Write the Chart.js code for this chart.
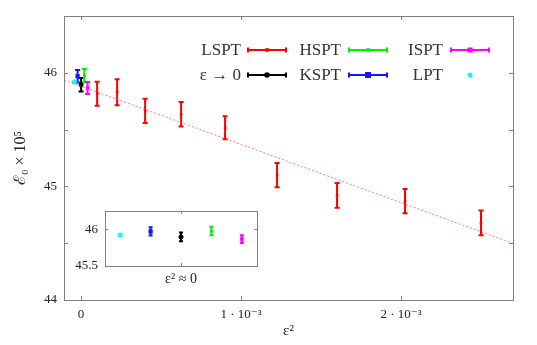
<!DOCTYPE html>
<html>
<head>
<meta charset="utf-8">
<script src="https://cdn.jsdelivr.net/npm/chart.js@4.4.0/dist/chart.umd.min.js"></script>
<style>
  html, body { margin: 0; padding: 0; background: #fff; }
  #wrap { position: relative; width: 537px; height: 345px; }
  #main { position: absolute; left: 0; top: 0; }
  #inset { position: absolute; left: 60px; top: 196px; }
</style>
</head>
<body>
<div id="wrap">
  <canvas id="main" width="537" height="345"></canvas>
  <canvas id="inset" width="205" height="96"></canvas>
</div>
<script>
/* ======================
   DATA
====================== */
// LSPT runs, x = eps^2
const lsptX = [0.0001, 0.000225, 0.0004, 0.000625, 0.0009, 0.001225, 0.0016, 0.002025, 0.0025];
const lsptY = [45.816, 45.829, 45.665, 45.636, 45.516, 45.099, 44.921, 44.871, 44.679];
const lsptErr = [0.105, 0.115, 0.106, 0.108, 0.102, 0.107, 0.108, 0.107, 0.108];

// linear fit through LSPT (dashed line)
const fitIntercept = 45.882;
const fitSlope = -512.6;

// estimates near eps^2 = 0 : LPT, KSPT, eps->0, HSPT, ISPT
const zeroNames = ["LPT", "KSPT", "ε → 0", "HSPT", "ISPT"];
const zeroX = [-0.000042, -0.000022, 0, 0.00002, 0.00004];   // small offsets in the main plot
const insetX = [-2, -1, 0, 1, 2];                             // slots in the inset
const zeroY = [45.92, 45.97, 45.895, 45.975, 45.866];
const zeroErr = [0, 0.055, 0.06, 0.058, 0.052];

const xTicks = [0, 0.001, 0.002];

/* ======================
   STYLE
====================== */
const FONT = "'Liberation Serif', 'DejaVu Serif', serif";
const AXIS = "#808080";
const TXT = "#222";
Chart.defaults.font.family = FONT;
Chart.defaults.color = TXT;

const zeroStyle = [
  { color: "#00ffff", point: "star", r: 2.5 },
  { color: "#1515ff", point: "rect", r: 3 },
  { color: "#000000", point: "circle", r: 2.5 },
  { color: "#00ee00", point: "rect", r: 2 },
  { color: "#ff00ff", point: "rect", r: 2.5 }
];

/* ======================
   PLUGINS
====================== */
// vertical error bars from dataset.errs, placed with the y scale
const errorBars = {
  id: "errorBars",
  beforeDatasetsDraw(chart) {
    const ctx = chart.ctx;
    const ys = chart.scales.y;
    chart.data.datasets.forEach((ds, di) => {
      if (!ds.errs) return;
      const meta = chart.getDatasetMeta(di);
      ctx.save();
      ctx.strokeStyle = ds.barColor;
      ctx.lineWidth = ds.barWidth || 2;
      meta.data.forEach((pt, i) => {
        const e = ds.errs[i];
        if (!e) return;
        const v = ds.data[i].y;
        const t = ys.getPixelForValue(v + e);
        const b = ys.getPixelForValue(v - e);
        const c = ds.capHalf || 2.5;
        ctx.beginPath();
        ctx.moveTo(pt.x, t); ctx.lineTo(pt.x, b);
        ctx.moveTo(pt.x - c, t); ctx.lineTo(pt.x + c, t);
        ctx.moveTo(pt.x - c, b); ctx.lineTo(pt.x + c, b);
        ctx.stroke();
      });
      ctx.restore();
    });
  }
};

// box around the plot with inward ticks on all sides
const frame = {
  id: "frame",
  beforeDraw(chart, args, opts) {
    if (!opts.fill) return;
    const a = chart.chartArea;
    chart.ctx.save();
    chart.ctx.fillStyle = "#fff";
    chart.ctx.fillRect(a.left, a.top, a.right - a.left, a.bottom - a.top);
    chart.ctx.restore();
  },
  afterDraw(chart, args, opts) {
    const ctx = chart.ctx;
    const a = chart.chartArea;
    const L = opts.tick || 4;
    ctx.save();
    ctx.strokeStyle = AXIS;
    ctx.lineWidth = 1;
    ctx.strokeRect(Math.round(a.left) + 0.5, Math.round(a.top) + 0.5,
      Math.round(a.right - a.left), Math.round(a.bottom - a.top));
    ctx.beginPath();
    chart.scales.x.ticks.forEach(t => {
      const px = Math.round(chart.scales.x.getPixelForValue(t.value)) + 0.5;
      ctx.moveTo(px, a.bottom); ctx.lineTo(px, a.bottom - L);
      ctx.moveTo(px, a.top); ctx.lineTo(px, a.top + L);
    });
    chart.scales.y.ticks.forEach(t => {
      const py = Math.round(chart.scales.y.getPixelForValue(t.value)) + 0.5;
      ctx.moveTo(a.left, py); ctx.lineTo(a.left + L, py);
      ctx.moveTo(a.right, py); ctx.lineTo(a.right - L, py);
    });
    ctx.stroke();
    ctx.restore();
  }
};

// legend with horizontal error-bar glyphs
const legendItems = [
  { text: "LSPT", color: "#ff0000", point: "rect", r: 1.8, col: 0, row: 0 },
  { text: "HSPT", color: "#00ee00", point: "rect", r: 1.8, col: 1, row: 0 },
  { text: "ISPT", color: "#ff00ff", point: "rect", r: 2.5, col: 2, row: 0 },
  { text: "ε → 0", color: "#000000", point: "circle", r: 2.8, col: 0, row: 1 },
  { text: "KSPT", color: "#1515ff", point: "rect", r: 3, col: 1, row: 1 },
  { text: "LPT", color: "#00ffff", point: "star", r: 2.5, col: 2, row: 1, noBar: true }
];
const legendCols = [{ textRight: 241, x0: 248, x1: 286 },
                    { textRight: 341, x0: 349, x1: 387 },
                    { textRight: 443, x0: 451, x1: 489 }];
const legendRows = [50, 75];

const errLegend = {
  id: "errLegend",
  afterDraw(chart) {
    const ctx = chart.ctx;
    ctx.save();
    ctx.font = "17px " + FONT;
    ctx.textAlign = "right";
    ctx.textBaseline = "middle";
    legendItems.forEach(it => {
      const c = legendCols[it.col];
      const y = legendRows[it.row];
      ctx.fillStyle = "#333";
      ctx.fillText(it.text, c.textRight, y + 1);
      const mid = (c.x0 + c.x1) / 2;
      if (!it.noBar) {
        ctx.strokeStyle = it.color;
        ctx.lineWidth = 2;
        ctx.beginPath();
        ctx.moveTo(c.x0, y); ctx.lineTo(c.x1, y);
        ctx.moveTo(c.x0, y - 2.5); ctx.lineTo(c.x0, y + 2.5);
        ctx.moveTo(c.x1, y - 2.5); ctx.lineTo(c.x1, y + 2.5);
        ctx.stroke();
      }
      ctx.fillStyle = it.color;
      ctx.strokeStyle = it.color;
      ctx.lineWidth = 1.5;
      if (it.point === "star") {
        ctx.beginPath();
        ctx.moveTo(mid - it.r, y); ctx.lineTo(mid + it.r, y);
        ctx.moveTo(mid, y - it.r); ctx.lineTo(mid, y + it.r);
        ctx.moveTo(mid - it.r * 0.7, y - it.r * 0.7); ctx.lineTo(mid + it.r * 0.7, y + it.r * 0.7);
        ctx.moveTo(mid - it.r * 0.7, y + it.r * 0.7); ctx.lineTo(mid + it.r * 0.7, y - it.r * 0.7);
        ctx.stroke();
      } else {
        ctx.beginPath();
        if (it.point === "circle") ctx.arc(mid, y, it.r, 0, Math.PI * 2);
        else ctx.rect(mid - it.r, y - it.r, it.r * 2, it.r * 2);
        ctx.fill();
      }
    });
    ctx.restore();
  }
};

/* ======================
   MAIN CHART
====================== */
const X_MIN = -0.000107, X_MAX = 0.0027;

function pointSet(label, xs, ys, errs, st) {
  return {
    type: "scatter",
    label,
    data: xs.map((x, i) => ({ x, y: ys[i] })),
    errs,
    barColor: st.color,
    barWidth: 2,
    capHalf: 2.5,
    pointStyle: st.point,
    pointRadius: st.r,
    backgroundColor: st.color,
    borderColor: st.color,
    borderWidth: st.point === "star" ? 1.5 : 0
  };
}

const mainSets = [
  {
    type: "line",
    label: "fit",
    data: [X_MIN, X_MAX].map(x => ({ x, y: fitIntercept + fitSlope * x })),
    borderColor: "rgba(255,80,80,0.75)",
    borderWidth: 1,
    borderDash: [2, 2],
    pointRadius: 0
  },
  pointSet("LSPT", lsptX, lsptY, lsptErr, { color: "#ff0000", point: "rect", r: 1.8 })
];
zeroNames.forEach((n, i) => {
  mainSets.push(pointSet(n, [zeroX[i]], [zeroY[i]], [zeroErr[i]], zeroStyle[i]));
});

new Chart(document.getElementById("main"), {
  data: { datasets: mainSets },
  options: {
    responsive: false,
    animation: false,
    devicePixelRatio: 1,
    layout: { padding: { top: 16, right: 24, left: 0, bottom: 0 } },
    plugins: {
      legend: { display: false },
      tooltip: { enabled: false },
      frame: { tick: 4 }
    },
    scales: {
      x: {
        type: "linear",
        min: X_MIN,
        max: X_MAX,
        afterFit: s => { s.height = 45; },
        afterBuildTicks: s => { s.ticks = xTicks.map(v => ({ value: v })); },
        grid: { display: false, drawTicks: false },
        border: { display: false },
        ticks: {
          padding: 7,
          font: { size: 13 },
          maxRotation: 0,
          callback: v => Math.abs(v) < 1e-9 ? "0" : Math.round(v * 1000) + " · 10⁻³"
        },
        title: {
          display: true,
          text: "ε²",
          font: { size: 15 },
          padding: { top: 0, bottom: 5 }
        }
      },
      y: {
        min: 44,
        max: 46.5,
        afterFit: s => { s.width = 64; },
        grid: { display: false, drawTicks: false },
        border: { display: false },
        ticks: {
          stepSize: 0.5,
          padding: 7,
          font: { size: 13 },
          callback: v => Number.isInteger(v) ? String(v) : ""
        },
        title: {
          display: true,
          text: "ℰ₀ × 10⁵",
          font: { size: 16 },
          padding: { top: 11, bottom: 0 }
        }
      }
    }
  },
  plugins: [errorBars, frame, errLegend]
});

/* ======================
   INSET
====================== */
const insetSets = zeroNames.map((n, i) => {
  const d = pointSet(n, [insetX[i]], [zeroY[i]], [zeroErr[i]], zeroStyle[i]);
  d.capHalf = 2;
  return d;
});

new Chart(document.getElementById("inset"), {
  data: { datasets: insetSets },
  options: {
    responsive: false,
    animation: false,
    devicePixelRatio: 1,
    layout: { padding: { top: 10, right: 8, left: 0, bottom: 0 } },
    plugins: {
      legend: { display: false },
      tooltip: { enabled: false },
      frame: { tick: 3, fill: true }
    },
    scales: {
      x: {
        type: "linear",
        min: -2.5,
        max: 2.5,
        afterFit: s => { s.height = 26; },
        grid: { display: false, drawTicks: false },
        border: { display: false },
        ticks: { display: false, stepSize: 2.5 },
        title: {
          display: true,
          text: "ε² ≈ 0",
          font: { size: 14 },
          padding: { top: 0, bottom: 4 }
        }
      },
      y: {
        min: 45.5,
        max: 46.25,
        afterFit: s => { s.width = 45; },
        grid: { display: false, drawTicks: false },
        border: { display: false },
        ticks: {
          stepSize: 0.5,
          includeBounds: false,
          padding: 7,
          font: { size: 13 },
          callback: v => v === 46 ? "46" : (v === 45.5 ? "45.5" : "")
        }
      }
    }
  },
  plugins: [errorBars, frame]
});
</script>
</body>
</html>
